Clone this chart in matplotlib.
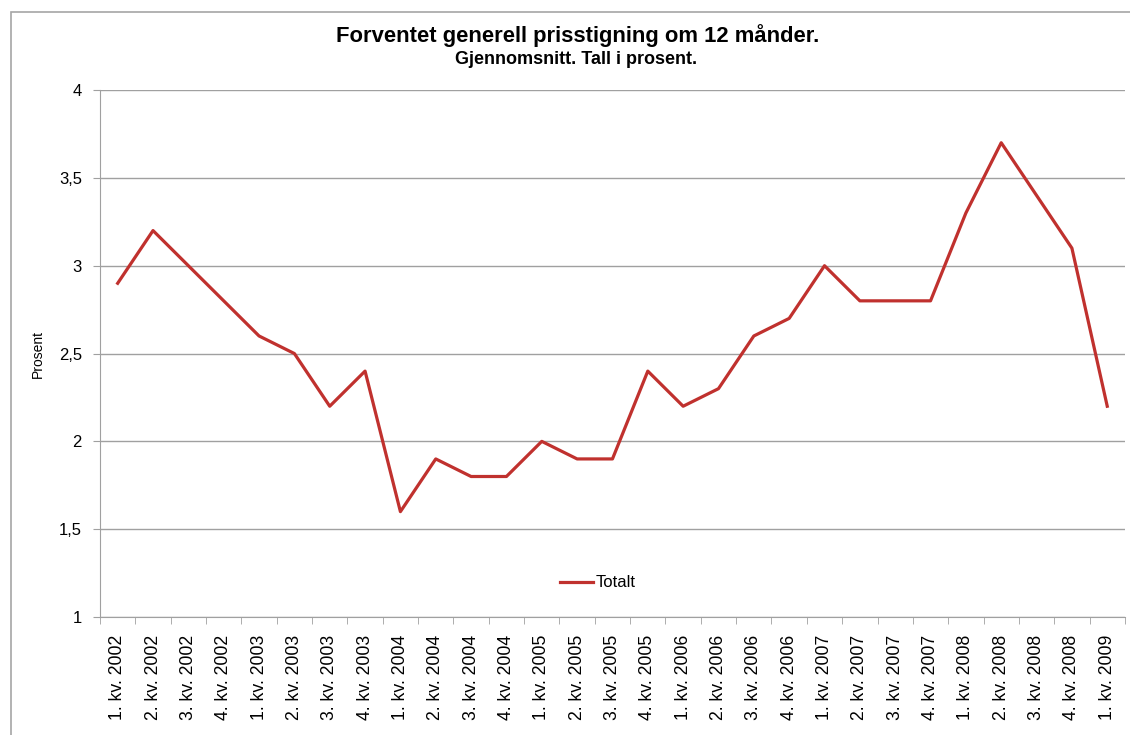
import matplotlib
matplotlib.use("Agg")
import matplotlib.pyplot as plt
from matplotlib.patches import Rectangle

# data
kvartal = ["1. kv. 2002", "2. kv. 2002", "3. kv. 2002", "4. kv. 2002",
           "1. kv. 2003", "2. kv. 2003", "3. kv. 2003", "4. kv. 2003",
           "1. kv. 2004", "2. kv. 2004", "3. kv. 2004", "4. kv. 2004",
           "1. kv. 2005", "2. kv. 2005", "3. kv. 2005", "4. kv. 2005",
           "1. kv. 2006", "2. kv. 2006", "3. kv. 2006", "4. kv. 2006",
           "1. kv. 2007", "2. kv. 2007", "3. kv. 2007", "4. kv. 2007",
           "1. kv. 2008", "2. kv. 2008", "3. kv. 2008", "4. kv. 2008",
           "1. kv. 2009"]
totalt = [2.9, 3.2, 3.0, 2.8, 2.6, 2.5, 2.2, 2.4, 1.6, 1.9, 1.8, 1.8,
          2.0, 1.9, 1.9, 2.4, 2.2, 2.3, 2.6, 2.7, 3.0, 2.8, 2.8, 2.8,
          3.3, 3.7, 3.4, 3.1, 2.2]
y_ticks = [1, 1.5, 2, 2.5, 3, 3.5, 4]

plt.rcParams["font.family"] = ["Liberation Sans", "DejaVu Sans"]

fig = plt.figure(figsize=(11.3, 7.35), dpi=100)
ax = fig.add_axes([0.0885, 0.1605, 0.907, 0.717])

# ramme rundt hele figuren
fig.patches.append(Rectangle((11 / 1130, -0.1), 1.2, 1 - 12 / 735 + 0.1,
                             transform=fig.transFigure, fill=False,
                             edgecolor="#A6A6A6", linewidth=1.2))

x = list(range(len(kvartal)))
ax.plot(x, totalt, color="#C0312E", linewidth=2.3, label="Totalt")

ax.set_xlim(-0.5, len(kvartal) - 0.5)
ax.set_ylim(1, 4)
ax.set_yticks(y_ticks)
ax.set_yticklabels([f"{v:g}".replace(".", ",") for v in y_ticks], fontsize=12)
ax.yaxis.grid(True, color="#A0A0A0", linewidth=1)
ax.set_axisbelow(True)

# kategorier: etiketter i midten, merker mellom
ax.set_xticks(x)
ax.set_xticklabels(kvartal, rotation=90, fontsize=12.7)
ax.tick_params(axis="x", length=0, pad=12.5)
ax.set_xticks([i - 0.5 for i in range(len(kvartal) + 1)], minor=True)
ax.tick_params(axis="x", which="minor", length=5, color="#A0A0A0")
ax.tick_params(axis="y", length=5, color="#A0A0A0", pad=8)

for s in ["top", "right"]:
    ax.spines[s].set_visible(False)
ax.spines["left"].set_color("#A0A0A0")
ax.spines["bottom"].set_color("#A0A0A0")

fig.text(38 / 1130, 1 - 354 / 735, "Prosent", rotation=90,
         ha="center", va="center", fontsize=10)

fig.text(578 / 1130, 1 - 36 / 735, "Forventet generell prisstigning om 12 månder.",
         ha="center", va="center", fontsize=15.8, fontweight="bold")
fig.text(576 / 1130, 1 - 60 / 735, "Gjennomsnitt. Tall i prosent.",
         ha="center", va="center", fontsize=13, fontweight="bold")

ax.legend(loc="center", bbox_to_anchor=(0.529, 0.207),
          bbox_transform=fig.transFigure, frameon=False, fontsize=12,
          handlelength=2.0, handletextpad=0.15)

fig.savefig("out.png", dpi=100)
